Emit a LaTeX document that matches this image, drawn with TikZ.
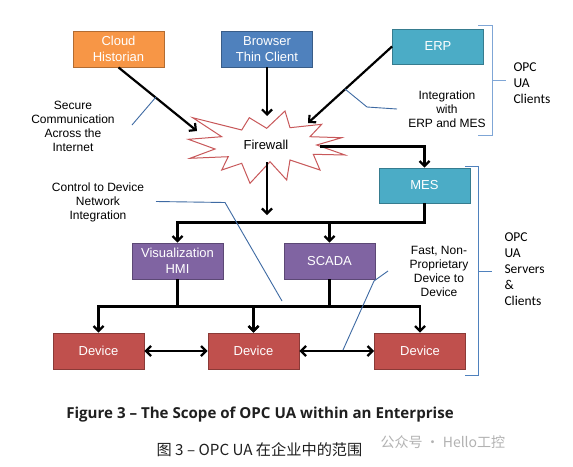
\documentclass[tikz,border=0pt]{standalone}
\usepackage{fontspec}
\setmainfont{Liberation Sans}
\newfontfamily\calfont{Carlito}
\newfontfamily\capfont{Open Sans}
\newfontfamily\cjkfont{Noto Sans CJK SC}
\usetikzlibrary{arrows.meta}
\definecolor{cloudor}{HTML}{F79646}
\definecolor{browserbl}{HTML}{4F81BD}
\definecolor{erpteal}{HTML}{4BACC6}
\definecolor{hmipurple}{HTML}{8064A2}
\definecolor{devred}{HTML}{C0504D}
\definecolor{fwred}{HTML}{C8585A}
\definecolor{pointerbl}{HTML}{3E6AA3}
\definecolor{bracketbl}{HTML}{7FA6D6}
\definecolor{captext}{HTML}{1F1F1F}
\begin{document}
\begin{tikzpicture}[x=1pt,y=-1pt,
	box/.style={draw=#1!72!black, fill=#1, line width=0.9pt, minimum width=91pt, minimum height=36pt, inner sep=0pt, text=white, align=center, font=\fontsize{13}{16}\selectfont},
	arr/.style={line width=2.2pt, -{Straight Barb[length=5pt,width=10pt]}},
	darr/.style={line width=2.2pt, {Straight Barb[length=5pt,width=10pt]}-{Straight Barb[length=5pt,width=10pt]}},
	pointer/.style={draw=pointerbl, line width=0.9pt},
	note/.style={align=center, font=\fontsize{12}{14}\selectfont},
	opc/.style={align=left, anchor=west, font=\calfont\fontsize{13.5}{16}\selectfont}]

	\useasboundingbox[fill=white] (0,0) rectangle (573,466);

	% clients
	\node[box=cloudor] (cloud) at (118.5,49) {Cloud\\Historian};
	\node[box=browserbl] (browser) at (267,49) {Browser\\Thin Client};
	\node[box=erpteal, minimum height=35pt] (erp) at (438,46.5) {ERP};

	% firewall
	\draw[fwred, fill=white, line width=1pt, line join=miter]
		(192.7,117.7) -- (241.7,130) -- (249.3,117.7) -- (266.7,128.3) -- (285,111)
		-- (290,127.7) -- (321.7,124.3) -- (310,136.7) -- (341.7,137.7) -- (316.7,145)
		-- (345,155) -- (313.3,154.3) -- (320,170) -- (290,160) -- (286.7,180)
		-- (270,161.7) -- (250,183.3) -- (241.7,163.3) -- (221.7,170) -- (228.3,156.7)
		-- (190,158.3) -- (215,149) -- (188.3,139.3) -- (221.7,136.7) -- cycle;
	\node[font=\fontsize{13}{15}\selectfont] (fw) at (266,144.5) {Firewall};
	\coordinate (fwul) at (197,131);
	\coordinate (fwtop) at (267,116);
	\coordinate (fwur) at (308,123);
	\coordinate (fwright) at (320,146.5);
	\coordinate (fwbot) at (267,162);
	\coordinate (fwend) at (267,215);

	% servers
	\node[box=erpteal, minimum height=35pt] (mes) at (424.5,185.5) {MES};
	\node[box=hmipurple] (hmi) at (177.5,261) {Visualization\\HMI};
	\node[box=hmipurple] (scada) at (329.5,261) {SCADA};
	\node[box=devred] (dev1) at (98.5,351) {Device};
	\node[box=devred] (dev2) at (253.5,351) {Device};
	\node[box=devred] (dev3) at (420,351) {Device};

	\draw[arr] (cloud.south) -- (fwul);
	\draw[arr] (browser.south) -- (fwtop);
	\draw[arr] (erp.west) -- (fwur);
	\draw[arr] (fwright) -| (mes.north);
	\draw[arr] (fwbot) -- (fwend);
	\draw[arr] (mes.south) -- ++(0,19) -| (hmi.north);
	\draw[arr] (mes.south) -- ++(0,19) -| (scada.north);
	\draw[arr] (hmi.south) -- ++(0,27) -| (dev1.north);
	\draw[arr] (hmi.south) -- ++(0,27) -| (dev2.north);
	\draw[arr] (scada.south) -- ++(0,27) -| (dev2.north);
	\draw[arr] (scada.south) -- ++(0,27) -| (dev3.north);
	\draw[darr] (dev1.east) -- (dev2.west);
	\draw[darr] (dev2.east) -- (dev3.west);

	% notes
	\node[note] (secure) at (73,126.5) {Secure\\Communication\\Across the\\Internet};
	\node[note] (integr) at (447,109) {Integration\\with\\ERP and MES};
	\node[note] (control) at (98,202) {Control to Device\\Network\\Integration};
	\node[note] (fast) at (439,271) {Fast, Non-\\Proprietary\\Device to\\Device};

	\coordinate (p1a) at (132,125);
	\coordinate (p1b) at (156,97);
	\coordinate (p2a) at (397,109);
	\coordinate (p2b) at (345,89);
	\coordinate (p3a) at (156,201.5);
	\coordinate (p3b) at (282,301);
	\coordinate (p4a) at (388,271);
	\coordinate (p4b) at (343,350);
	\draw[pointer] (p1a) -- (p1b);
	\draw[pointer] (p2a) -- (367,107) -- (p2b);
	\draw[pointer] (p3a) -- (225,202.5) -- (p3b);
	\draw[pointer] (p4a) -- (374,281) -- (p4b);

	% brackets
	\draw[bracketbl, line width=1pt] (478,25) -- (492,25) -- (492,135) -- (478,135);
	\draw[bracketbl, line width=1pt] (492,80) -- (506,80);
	\draw[browserbl, line width=1pt] (465,166) -- (478,166) -- (478,375) -- (465,375);
	\draw[browserbl, line width=1pt] (478,271) -- (492,271);
	\node[opc] (clients) at (510,83) {OPC\\UA\\Clients};
	\node[opc] (servers) at (501,269.5) {OPC\\UA\\Servers\\\&\\Clients};

	% captions
	\node[text=captext, font=\capfont\bfseries\fontsize{15.1}{17}\selectfont] (cap) at (260,415) {Figure 3 – The Scope of OPC UA within an Enterprise};
	\node[text=captext, font=\cjkfont\fontsize{15.2}{17}\selectfont] (capcn) at (259.5,450) {图 3 – OPC UA 在企业中的范围};
	\node[text=black!30, anchor=west, font=\cjkfont\fontsize{14}{16}\selectfont] (mark) at (377,442) {公众号 · Hello工控};

\end{tikzpicture}
\end{document}
